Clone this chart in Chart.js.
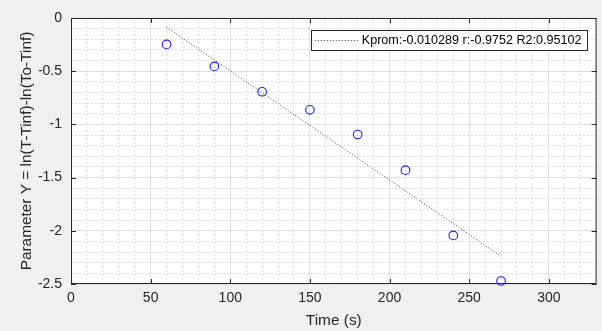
<!DOCTYPE html>
<html><head><meta charset="utf-8">
<script src="https://cdn.jsdelivr.net/npm/chart.js@4/dist/chart.umd.min.js"></script>
<style>html,body{margin:0;padding:0;background:#f0f0f0;overflow:hidden}#wrap{width:602px;height:331px;position:relative}</style>
</head><body><div id="wrap"><canvas id="c" width="602" height="331"></canvas></div>
<script>
// ---- data ----
const timeValues = [60, 90, 120, 150, 180, 210, 240, 270];
const yValues = [-0.248, -0.455, -0.693, -0.863, -1.095, -1.43, -2.043, -2.472];
const fitTimes = [60, 270];
const fitValues = [-0.087, -2.240];
const xTicks = [0, 50, 100, 150, 200, 250, 300];
const yTicks = [0, -0.5, -1, -1.5, -2, -2.5];
const xRange = [0, 330];
const yRange = [-2.5, 0];
const xTitle = 'Time (s)';
const yTitle = 'Parameter Y = ln(T-Tinf)-ln(To-Tinf)';
const fitLabel = 'Kprom:-0.010289 r:-0.9752 R2:0.95102';

const FONT = '"Liberation Sans", Arial, Helvetica, sans-serif';
const AX = '#262626';

const pointData = timeValues.map((t, i) => ({x: t, y: yValues[i]}));
const fitData = fitTimes.map((t, i) => ({x: t, y: fitValues[i]}));

const plotBg = {
  id: 'plotBg',
  beforeDraw(chart) {
    const {ctx, chartArea: a} = chart;
    ctx.save();
    ctx.fillStyle = '#ffffff';
    ctx.fillRect(a.left, a.top, a.right - a.left, a.bottom - a.top);
    ctx.restore();
  }
};

const boxTicks = {
  id: 'boxTicks',
  beforeDatasetsDraw(chart) {
    const {ctx, chartArea: a, scales} = chart;
    ctx.save();
    ctx.strokeStyle = AX;
    ctx.lineWidth = 1;
    ctx.beginPath();
    ctx.rect(a.left + 0.5, a.top + 0.5, a.right - a.left - 1, a.bottom - a.top - 1);
    const L = 5;
    xTicks.forEach(v => {
      const px = Math.round(scales.x.getPixelForValue(v)) + 0.5;
      ctx.moveTo(px, a.bottom); ctx.lineTo(px, a.bottom - L);
      ctx.moveTo(px, a.top); ctx.lineTo(px, a.top + L);
    });
    yTicks.forEach(v => {
      const py = Math.round(scales.y.getPixelForValue(v)) + 0.5;
      ctx.moveTo(a.left, py); ctx.lineTo(a.left + L, py);
      ctx.moveTo(a.right, py); ctx.lineTo(a.right - L, py);
    });
    ctx.stroke();
    ctx.restore();
  }
};

const boxLegend = {
  id: 'boxLegend',
  afterDraw(chart) {
    const {ctx, chartArea: a} = chart;
    const ds = chart.data.datasets[1];
    ctx.save();
    ctx.font = '12.6px ' + FONT;
    const tw = ctx.measureText(ds.label).width;
    const w = 4 + 43 + 4 + tw + 5;
    const right = a.right - 10;
    const left = right - w;
    const top = a.top + 12;
    const h = 20;
    ctx.fillStyle = '#ffffff';
    ctx.fillRect(left, top, w, h);
    ctx.strokeStyle = AX;
    ctx.lineWidth = 1;
    ctx.strokeRect(Math.round(left) + 0.5, top + 0.5, Math.round(w), h);
    ctx.strokeStyle = ds.borderColor;
    ctx.setLineDash([1, 2]);
    ctx.beginPath();
    ctx.moveTo(left + 4, top + h / 2 + 0.5);
    ctx.lineTo(left + 47, top + h / 2 + 0.5);
    ctx.stroke();
    ctx.setLineDash([]);
    ctx.fillStyle = '#000000';
    ctx.textBaseline = 'middle';
    ctx.textAlign = 'left';
    ctx.fillText(ds.label, left + 51, top + h / 2 + 1);
    ctx.restore();
  }
};

const minorColorX = c => (c.tick && c.tick.value % 50 === 0) ? 'rgba(0,0,0,0)' : '#dcdcdc';
const minorColorY = c => (c.tick && Math.round(c.tick.value * 10) % 5 === 0) ? 'rgba(0,0,0,0)' : '#dcdcdc';

new Chart(document.getElementById('c'), {
  type: 'scatter',
  data: {
    datasets: [
      {
        label: 'data',
        data: pointData,
        showLine: false,
        pointStyle: 'circle',
        pointRadius: 4.3,
        pointHoverRadius: 4.3,
        pointBorderWidth: 1.1,
        pointBackgroundColor: 'rgba(0,0,0,0)',
        pointBorderColor: '#1a1aff',
        clip: false,
        xAxisID: 'x', yAxisID: 'y'
      },
      {
        label: fitLabel,
        data: fitData,
        showLine: true,
        borderColor: '#3a3a3a',
        borderWidth: 1,
        borderDash: [1, 2],
        pointRadius: 0,
        pointHoverRadius: 0,
        fill: false,
        xAxisID: 'x', yAxisID: 'y'
      }
    ]
  },
  options: {
    responsive: false,
    animation: false,
    devicePixelRatio: 1,
    layout: {padding: {top: 18, right: 5, left: 0, bottom: 0}},
    plugins: {legend: {display: false}, tooltip: {enabled: false}},
    events: [],
    scales: {
      x2: {
        type: 'linear', position: 'top', min: xRange[0], max: xRange[1],
        afterBuildTicks: s => { const t = []; for (let v = xRange[0]; v <= xRange[1]; v += 10) t.push({value: v}); s.ticks = t; },
        afterFit: s => { s.height = 0; },
        ticks: {display: false},
        grid: {drawTicks: false, color: minorColorX, lineWidth: 1},
        border: {display: false, dash: [2, 2]}
      },
      y2: {
        type: 'linear', position: 'right', min: yRange[0], max: yRange[1],
        afterBuildTicks: s => { const t = []; for (let i = -25; i <= 0; i++) t.push({value: i / 10}); s.ticks = t; },
        afterFit: s => { s.width = 0; },
        ticks: {display: false},
        grid: {drawTicks: false, color: minorColorY, lineWidth: 1},
        border: {display: false, dash: [2, 2]}
      },
      x: {
        type: 'linear', position: 'bottom', min: xRange[0], max: xRange[1],
        afterBuildTicks: s => { s.ticks = xTicks.map(v => ({value: v})); },
        afterFit: s => { s.height = 47; },
        ticks: {autoSkip: false, maxRotation: 0, padding: 6, color: AX, font: {family: FONT, size: 14}, callback: v => String(v)},
        grid: {drawTicks: false, color: '#dfdfdf', lineWidth: 1},
        border: {display: false},
        title: {display: true, text: xTitle, color: AX, font: {family: FONT, size: 15.4}, padding: {top: 0, bottom: 1}}
      },
      y: {
        type: 'linear', position: 'left', min: yRange[0], max: yRange[1],
        afterBuildTicks: s => { s.ticks = yTicks.map(v => ({value: v})); },
        afterFit: s => { s.width = 71; },
        ticks: {autoSkip: false, padding: 9, color: AX, font: {family: FONT, size: 14}, callback: v => String(v)},
        grid: {drawTicks: false, color: '#dfdfdf', lineWidth: 1},
        border: {display: false},
        title: {display: true, text: yTitle, color: AX, font: {family: FONT, size: 15.4}, padding: {top: 18, bottom: 0}}
      }
    }
  },
  plugins: [plotBg, boxTicks, boxLegend]
});
</script>
</body></html>
